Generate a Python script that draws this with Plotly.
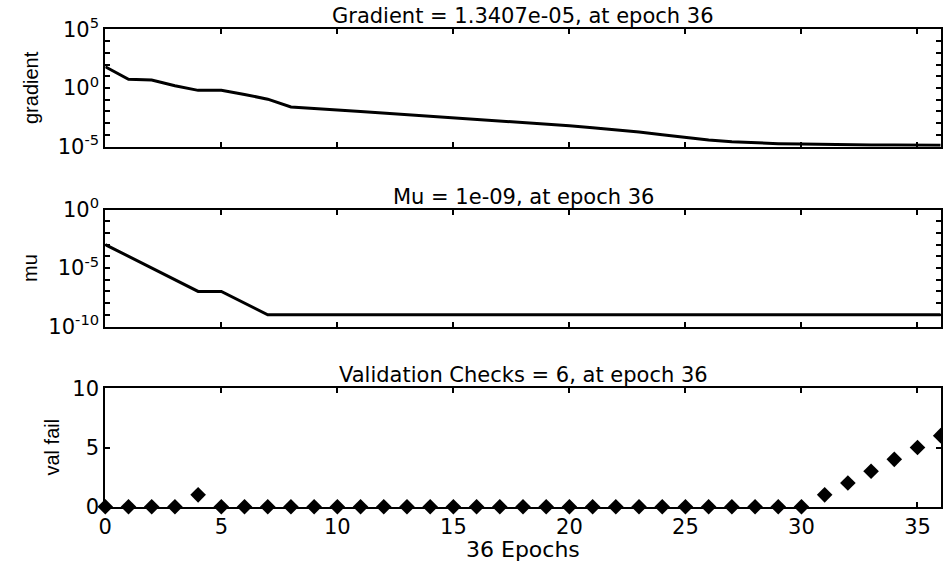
import plotly.graph_objects as go

epochs = list(range(0, 37))
gradient = [64.6, 5.5, 4.8, 1.58, 0.63, 0.63, 0.28, 0.112, 0.024, 0.0166,
            0.0132, 0.0100, 0.0074, 0.0055, 0.0040, 0.0028, 0.0021, 0.0015, 0.00112, 8.3e-4,
            6.0e-4, 4.2e-4, 2.8e-4, 1.78e-4, 1.05e-4, 6.0e-5, 3.8e-5, 2.6e-5, 2.1e-5, 1.82e-5,
            1.66e-5, 1.51e-5, 1.45e-5, 1.41e-5, 1.38e-5, 1.36e-5, 1.3407e-5]
mu = [1e-3, 1e-4, 1e-5, 1e-6, 1e-7, 1e-7, 1e-8, 1e-9] + [1e-9] * 29
val_fail = [0, 0, 0, 0, 1] + [0] * 26 + [1, 2, 3, 4, 5, 6]

titles = ["Gradient = 1.3407e-05, at epoch 36", "Mu = 1e-09, at epoch 36",
          "Validation Checks = 6, at epoch 36"]
ylabels = ["gradient", "mu", "val fail"]
xticks = [0, 5, 10, 15, 20, 25, 30, 35]
grad_major = [-5, 0, 5]
mu_major = [-10, -5, 0]

FONT = "DejaVu Sans, sans-serif"
FONT2 = "Liberation Sans, Arial, sans-serif"
X0, X1 = 105.3 / 943, 940.7 / 943
doms = [(1 - 146.7 / 564, 1 - 29.3 / 564),
        (1 - 326.5 / 564, 1 - 209.5 / 564),
        (1 - 506.7 / 564, 1 - 388.3 / 564)]

fig = go.Figure()
fig.add_trace(go.Scatter(x=epochs, y=gradient, mode="lines", line=dict(color="black", width=3),
                         xaxis="x", yaxis="y", showlegend=False))
fig.add_trace(go.Scatter(x=epochs, y=mu, mode="lines", line=dict(color="black", width=3),
                         xaxis="x2", yaxis="y2", showlegend=False))
fig.add_trace(go.Scatter(x=epochs, y=val_fail, mode="markers",
                         marker=dict(symbol="diamond", size=12, color="black"),
                         xaxis="x3", yaxis="y3", showlegend=False, cliponaxis=False))


def sup(e):
    return "10<sup>%d</sup>" % e


axcommon = dict(showline=True, linecolor="black", linewidth=2, mirror="allticks",
                ticks="inside", ticklen=5, tickwidth=1.5, tickcolor="black",
                showgrid=False, zeroline=False, automargin=False,
                tickfont=dict(family=FONT, size=21, color="black"))

layout = dict(width=943, height=564, margin=dict(l=0, r=0, t=0, b=0, pad=0, autoexpand=False),
              autosize=False,
              plot_bgcolor="white", paper_bgcolor="white", showlegend=False)

for i, name in enumerate(["xaxis", "xaxis2", "xaxis3"]):
    ax = dict(axcommon)
    ax.update(domain=[X0, X1], range=[0, 36], tickvals=xticks,
              ticktext=[str(t) for t in xticks], showticklabels=(i == 2),
              anchor=["y", "y2", "y3"][i])
    layout[name] = ax

minor_style = dict(ticks="inside", ticklen=5, tickwidth=1.5, tickcolor="black", showgrid=False)

ya = dict(axcommon)
ya.update(domain=list(doms[0]), type="log", range=[-5, 5], anchor="x",
          tickvals=[10 ** e for e in grad_major], ticktext=[sup(e) for e in grad_major],
          minor=dict(minor_style, tickvals=[10 ** e for e in range(-5, 6) if e not in grad_major]))
layout["yaxis"] = ya
ya2 = dict(axcommon)
ya2.update(domain=list(doms[1]), type="log", range=[-10, 0], anchor="x2",
           tickvals=[10 ** e for e in mu_major], ticktext=[sup(e) for e in mu_major],
           minor=dict(minor_style, tickvals=[10 ** e for e in range(-10, 1) if e not in mu_major]))
layout["yaxis2"] = ya2
ya3 = dict(axcommon)
ya3.update(domain=list(doms[2]), range=[0, 10], anchor="x3",
           tickvals=[0, 5, 10], ticktext=["0", "5", "10"])
layout["yaxis3"] = ya3

fig.update_layout(**layout)

annos = []
for i in range(3):
    annos.append(dict(text=titles[i], x=(X0 + X1) / 2, y=doms[i][1], xref="paper", yref="paper",
                      xanchor="center", yanchor="bottom", yshift=-1, showarrow=False,
                      font=dict(family=FONT, size=21, color="black")))
label_x = [31 / 943, 30 / 943, 51 / 943]
for i in range(3):
    annos.append(dict(text=ylabels[i], x=label_x[i], y=(doms[i][0] + doms[i][1]) / 2,
                      xref="paper", yref="paper", xanchor="center", yanchor="middle",
                      textangle=-90, showarrow=False,
                      font=dict(family=FONT2, size=20, color="black")))
annos.append(dict(text="36 Epochs", x=(X0 + X1) / 2, y=1 - 549 / 564, xref="paper", yref="paper",
                  xanchor="center", yanchor="middle", showarrow=False,
                  font=dict(family=FONT, size=22, color="black")))
fig.update_layout(annotations=annos)

fig.write_html("out.html")
